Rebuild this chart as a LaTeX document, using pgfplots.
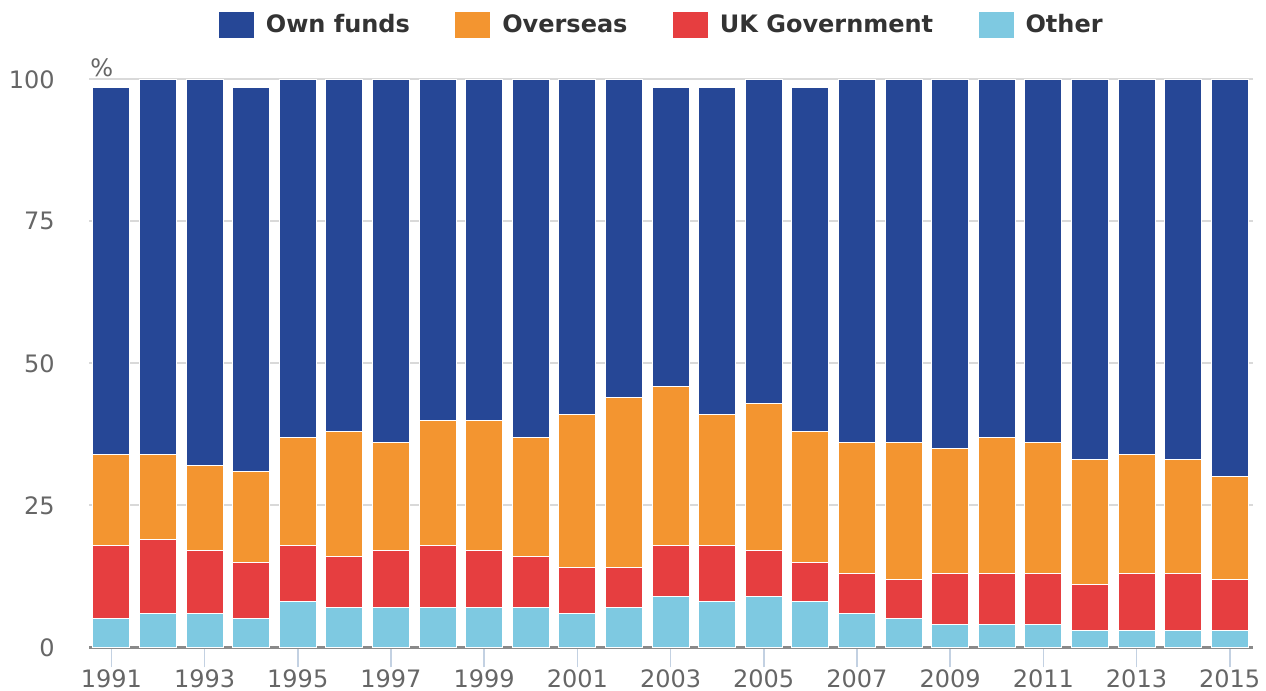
\documentclass[border=0pt]{standalone}
\usepackage{fontspec}
\setmainfont{DejaVu Sans}
\usepackage{pgfplots}
\pgfplotsset{compat=1.18}
\definecolor{ownc}{HTML}{264796}
\definecolor{overc}{HTML}{F39530}
\definecolor{ukc}{HTML}{E63E40}
\definecolor{otherc}{HTML}{7EC9E1}
\definecolor{gridc}{HTML}{D9D9D9}
\definecolor{zeroc}{HTML}{8A8A8A}
\definecolor{tickc}{HTML}{C3D1E2}
\definecolor{labc}{HTML}{666666}
\definecolor{legc}{HTML}{333333}
\begin{document}
\fontsize{12bp}{14bp}\selectfont
\begin{tikzpicture}
\begin{axis}[
  name=ax,
  at={(44.5bp,21.85bp)}, anchor=south west,
  scale only axis, width=582bp, height=284bp,
  ybar stacked, bar width=18.5bp,
  xmin=1990.52, xmax=2015.5, ymin=0, ymax=100,
  xtick={1991,1993,...,2015},
  ytick={25,50,75,100},
  extra y ticks={0},
  extra y tick style={grid style={color=zeroc, line width=1.2bp}, tick style={draw=none}},
  ymajorgrids, grid style={color=gridc, line width=1bp},
  axis line style={draw=none},
  xtick pos=bottom, ytick pos=left, ytick style={draw=none},
  tick align=outside, major tick length=10bp,
  xtick style={color=tickc, line width=0.8bp},
  /pgf/number format/assume math mode=true,
  /pgf/number format/1000 sep={},
  ticklabel style={font=\fontsize{12bp}{14bp}\selectfont, text=labc},
  yticklabel style={xshift=-3bp},
  xticklabel style={yshift=3bp},
  legend columns=-1, reverse legend,
  legend style={draw=none, fill=none, at={(axis description cs:0.4925,1.0956)}, anchor=center,
    font=\fontsize{12bp}{14bp}\selectfont\bfseries, text=legc,
    /tikz/every odd column/.append style={column sep=3.5bp},
    /tikz/every even column/.append style={column sep=20.2bp}},
  legend image code/.code={\fill[#1] (0bp,-6.75bp) rectangle (18bp,6.75bp);},
]
\addplot[fill=otherc, draw=white, line width=0.5bp] coordinates {
(1991,5) (1992,6) (1993,6) (1994,5) (1995,8) (1996,7) (1997,7) (1998,7) (1999,7) (2000,7)
(2001,6) (2002,7) (2003,9) (2004,8) (2005,9) (2006,8) (2007,6) (2008,5) (2009,4) (2010,4)
(2011,4) (2012,3) (2013,3) (2014,3) (2015,3)};
\addplot[fill=ukc, draw=white, line width=0.5bp] coordinates {
(1991,13) (1992,13) (1993,11) (1994,10) (1995,10) (1996,9) (1997,10) (1998,11) (1999,10) (2000,9)
(2001,8) (2002,7) (2003,9) (2004,10) (2005,8) (2006,7) (2007,7) (2008,7) (2009,9) (2010,9)
(2011,9) (2012,8) (2013,10) (2014,10) (2015,9)};
\addplot[fill=overc, draw=white, line width=0.5bp] coordinates {
(1991,16) (1992,15) (1993,15) (1994,16) (1995,19) (1996,22) (1997,19) (1998,22) (1999,23) (2000,21)
(2001,27) (2002,30) (2003,28) (2004,23) (2005,26) (2006,23) (2007,23) (2008,24) (2009,22) (2010,24)
(2011,23) (2012,22) (2013,21) (2014,20) (2015,18)};
\addplot[fill=ownc, draw=white, line width=0.5bp] coordinates {
(1991,64.5) (1992,66) (1993,68) (1994,67.5) (1995,63) (1996,62) (1997,64) (1998,60) (1999,60) (2000,63)
(2001,59) (2002,56) (2003,52.5) (2004,57.5) (2005,57) (2006,60.5) (2007,64) (2008,64) (2009,65) (2010,63)
(2011,64) (2012,67) (2013,66) (2014,67) (2015,70)};
\legend{Other, UK Government, Overseas, Own funds}
\draw[tickc, line width=1.2bp] ([yshift=-1.2bp]axis cs:1990.52,0) -- ([yshift=-1.2bp]axis cs:2015.5,0);
\end{axis}
\node[anchor=south west, text=labc, inner sep=0pt, xshift=0.5bp, yshift=1.2bp] at (ax.north west) {\%};
\pgfresetboundingbox
\useasboundingbox (0,0) rectangle (633bp,345.5bp);
\end{tikzpicture}
\end{document}
